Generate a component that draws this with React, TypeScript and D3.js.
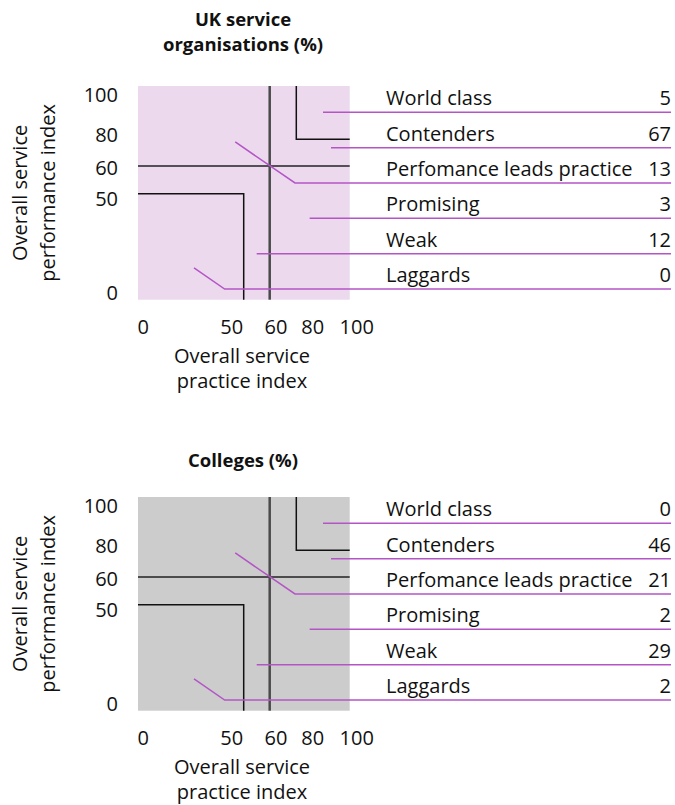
import React from "react";
import * as d3 from "d3";

const categories = [
  "World class",
  "Contenders",
  "Perfomance leads practice",
  "Promising",
  "Weak",
  "Laggards",
];
const ukValues = [5, 67, 13, 3, 12, 0];
const collegeValues = [0, 46, 21, 2, 29, 2];

const xTicks = [0, 50, 60, 80, 100];
const yTicks = [0, 50, 60, 80, 100];

// leader line anchors in index units (practice, performance); bendX for diagonal leaders
const leaderX = [90, 93, 46, 85, 55, 26.5];
const leaderY = [null, null, 78, null, null, 15] as (number | null)[];
const leaderBendX = [null, null, 79, null, null, 41] as (number | null)[];

const panels = [
  { title: ["UK service", "organisations (%)"], values: ukValues, fill: "#ecd9ed", top: 0 },
  { title: ["Colleges (%)"], values: collegeValues, fill: "#cccccc", top: 411 },
];

const FONT = "'Open Sans', 'Liberation Sans', sans-serif";
const MAGENTA = "#b455c6";
const FS = 20;

function Panel({ p }: { p: (typeof panels)[number] }) {
  const x = d3.scaleLinear().domain(xTicks).range([138, 243.7, 269.7, 296.3, 349.7]);
  const y = d3.scaleLinear().domain(yTicks).range([299.7, 193.7, 166, 139.3, 86]);
  const xLab = d3.scaleLinear().domain(xTicks).range([143.3, 231.7, 276, 312.7, 356.7]);
  const yLab = d3.scaleLinear().domain(yTicks).range([293, 199, 168, 135, 95]);
  const row = d3.scaleLinear().domain([0, categories.length - 1]).range([112.3, 289]);
  const lineEnd = 671;
  const titleYs = p.title.length === 2 ? [25.5, 51] : [56];
  return (
    <g transform={`translate(0,${p.top})`}>
      {p.title.map((t, i) => (
        <text key={i} x={243} y={titleYs[i]} textAnchor="middle" fontWeight="bold" fontSize={18.5} fill="#111">
          {t}
        </text>
      ))}
      <rect x={x(0)} y={y(100)} width={x(100) - x(0)} height={y(0) - y(100)} fill={p.fill} />
      {/* lower-left box */}
      <path d={`M${x(0)},${y(50)}H${x(50)}V${y(0)}`} fill="none" stroke="#111" strokeWidth={1.5} />
      {/* upper-right box */}
      <path d={`M${x(80)},${y(100)}V${y(80)}H${x(100)}`} fill="none" stroke="#111" strokeWidth={1.5} />
      {/* crosshair */}
      <line x1={x(0)} x2={x(100)} y1={y(60)} y2={y(60)} stroke="#222" strokeWidth={1.5} />
      <line x1={x(60)} x2={x(60)} y1={y(0)} y2={y(100)} stroke="#4a4a4a" strokeWidth={2.5} />
      {/* leaders */}
      {categories.map((c, i) => {
        const ry = row(i);
        const ly = leaderY[i];
        const bx = leaderBendX[i];
        const d =
          ly !== null && bx !== null
            ? `M${x(leaderX[i])},${y(ly)}L${x(bx)},${ry}H${lineEnd}`
            : `M${x(leaderX[i])},${ry}H${lineEnd}`;
        return <path key={c} d={d} fill="none" stroke={MAGENTA} strokeWidth={1.5} />;
      })}
      {categories.map((c, i) => (
        <g key={c}>
          <text x={386} y={row(i) - 7} fontSize={FS} fill="#111">
            {c}
          </text>
          <text x={671} y={row(i) - 7} fontSize={FS} fill="#111" textAnchor="end">
            {p.values[i]}
          </text>
        </g>
      ))}
      {/* y ticks */}
      {yTicks.map((t) => (
        <text key={t} x={118} y={yLab(t)} dy="0.36em" textAnchor="end" fontSize={FS} fill="#111">
          {t}
        </text>
      ))}
      {/* x ticks */}
      {xTicks.map((t) => (
        <text key={t} x={xLab(t)} y={334} textAnchor="middle" fontSize={FS} fill="#111">
          {t}
        </text>
      ))}
      <text x={242} y={363} textAnchor="middle" fontSize={FS} fill="#111">Overall service</text>
      <text x={242} y={388} textAnchor="middle" fontSize={FS} fill="#111">practice index</text>
      <g transform={`translate(0,${(y(0) + y(100)) / 2})`}>
        <text transform="translate(27,0) rotate(-90)" textAnchor="middle" fontSize={FS} fill="#111">Overall service</text>
        <text transform="translate(55,0) rotate(-90)" textAnchor="middle" fontSize={FS} fill="#111">performance index</text>
      </g>
    </g>
  );
}

export default function App() {
  return (
    <svg
      width={675}
      height={805}
      style={{ position: "absolute", left: 0, top: 0, background: "#fff" }}
      fontFamily={FONT}
    >
      {panels.map((p, i) => (
        <Panel key={i} p={p} />
      ))}
    </svg>
  );
}
